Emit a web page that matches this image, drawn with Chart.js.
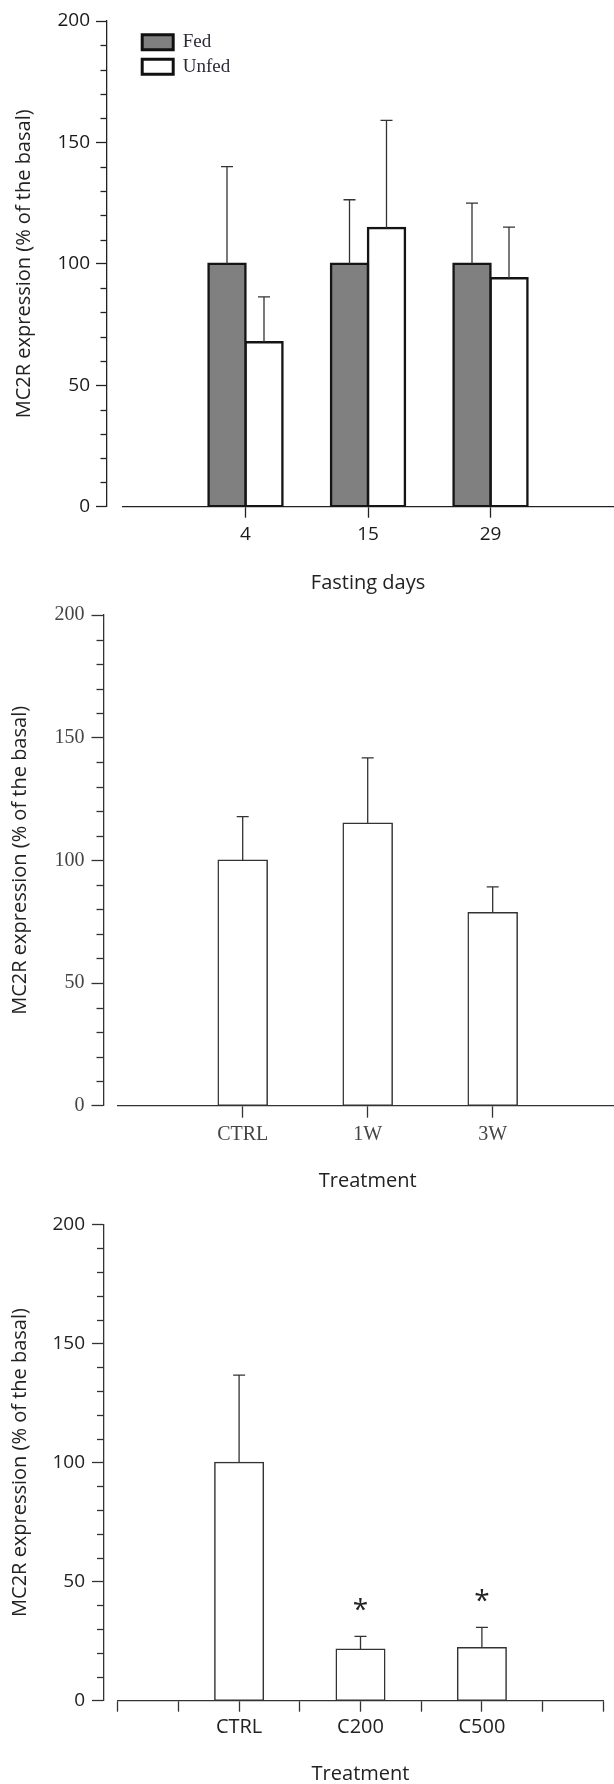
<!DOCTYPE html>
<html><head><meta charset="utf-8">
<script src="https://cdn.jsdelivr.net/npm/chart.js@4.4.1/dist/chart.umd.min.js"></script>
<style>
html,body{margin:0;padding:0;background:#fff;overflow:hidden;width:614px;height:1784px;position:relative;}
canvas{position:absolute;left:0;}
</style></head><body>
<canvas id="c1" width="614" height="596" style="top:0px"></canvas>
<canvas id="c2" width="614" height="600" style="top:596px"></canvas>
<canvas id="c3" width="614" height="588" style="top:1196px"></canvas>
<script>
// ---------- DATA ----------
const yTitle = 'MC2R expression (% of the basal)';
const yMin = 0, yMax = 200, yMajorStep = 50, yMinorStep = 10;

// Panel 1: fasting experiment
const fastingDays = ['4', '15', '29'];
const fedMean = [100, 100, 100];
const fedSem = [40, 26.4, 25];
const unfedMean = [67.7, 114.8, 94.1];
const unfedSem = [18.7, 44.3, 21];
const seriesNames1 = ['Fed', 'Unfed'];
const xTitle1 = 'Fasting days';

// Panel 2: treatment weeks
const treatA = ['CTRL', '1W', '3W'];
const treatAMean = [100, 115.1, 78.6];
const treatASem = [17.8, 26.7, 10.6];
const xTitle2 = 'Treatment';

// Panel 3: treatment concentrations
const treatB = ['CTRL', 'C200', 'C500'];
const treatBMean = [100, 21.6, 22.2];
const treatBSem = [36.7, 5.4, 8.6];
const treatBSig = ['', '*', '*'];
const xTitle3 = 'Treatment';

// ---------- HELPERS ----------
const SANS = "'Open Sans', 'DejaVu Sans', sans-serif";
const SERIF = "'Liberation Serif', 'Times New Roman', serif";
const pad1 = a => [null, ...a, null];
// panel 3 axis has a tick between every category
const spread = a => [null, null, ...a.flatMap(v => [v, null]), null];

const layoutPlugin = {
  id: 'axisLayout',
  afterLayout(chart, args, o) {
    const x = chart.scales.x;
    x.left = o.left; x.right = o.right; x.width = o.right - o.left;
    x.configure();
    if (o.legend && chart.legend) {
      chart.legend.left = chart.chartArea.left + o.legend.dx;
      chart.legend.top = chart.chartArea.top + o.legend.dy;
    }
  }
};

const decorPlugin = {
  id: 'decor',
  afterDatasetsDraw(chart, args, o) {
    const ctx = chart.ctx, y = chart.scales.y;
    ctx.save();
    chart.data.datasets.forEach((ds, di) => {
      if (!ds.sem) return;
      const meta = chart.getDatasetMeta(di);
      meta.data.forEach((bar, i) => {
        const v = ds.data[i], s = ds.sem[i];
        if (v == null || s == null) return;
        const yt = y.getPixelForValue(v + s);
        ctx.strokeStyle = o.errColor; ctx.lineWidth = o.errWidth;
        ctx.beginPath();
        ctx.moveTo(bar.x, bar.y); ctx.lineTo(bar.x, yt);
        ctx.moveTo(bar.x - o.cap / 2, yt); ctx.lineTo(bar.x + o.cap / 2, yt);
        ctx.stroke();
        if (ds.sig && ds.sig[i]) {
          ctx.fillStyle = o.sigColor; ctx.font = o.sigFont;
          ctx.textAlign = 'center'; ctx.textBaseline = 'middle';
          ctx.fillText(ds.sig[i], bar.x, yt - o.sigOffset);
        }
      });
    });
    ctx.restore();
  },
  afterDraw(chart, args, o) {
    const ctx = chart.ctx, y = chart.scales.y;
    const xr = y.right;
    ctx.save();
    ctx.strokeStyle = o.lineColor; ctx.lineWidth = o.lineWidth;
    for (let v = yMin; v <= yMax; v += yMinorStep) {
      if (v % yMajorStep === 0) continue;
      const py = Math.round(y.getPixelForValue(v)) + 0.5;
      ctx.beginPath(); ctx.moveTo(xr - o.minorLen, py); ctx.lineTo(xr, py); ctx.stroke();
    }
    ctx.restore();
  }
};

function yScale(o) {
  return {
    type: 'linear', min: yMin, max: yMax,
    ticks: { stepSize: yMajorStep, padding: o.tickPad, color: o.tickColor, font: o.tickFont },
    grid: { drawOnChartArea: false, drawTicks: true, tickLength: o.tickLen, tickColor: o.lineColor, tickWidth: o.lineWidth },
    border: { display: true, color: o.lineColor, width: o.lineWidth },
    title: { display: true, text: yTitle, color: o.titleColor, font: { family: SANS, size: 20, lineHeight: 1 }, padding: { top: o.titlePad, bottom: 0 } },
    afterFit: s => { s.width = o.width; }
  };
}
function xScale(o) {
  return {
    type: 'category', offset: false,
    ticks: { autoSkip: false, maxRotation: 0, minRotation: 0, padding: o.tickPad, color: o.tickColor, font: o.tickFont },
    grid: { offset: false, drawOnChartArea: false, drawTicks: true, tickLength: o.tickLen, tickColor: o.lineColor, tickWidth: o.lineWidth },
    border: { display: true, color: o.lineColor, width: o.lineWidth },
    title: { display: true, text: o.title, color: o.titleColor, font: { family: SANS, size: 20, lineHeight: 1 }, padding: { top: 0, bottom: o.titlePad } },
    afterFit: s => { s.height = o.height; }
  };
}

Chart.defaults.font.family = SANS;

// ---------- PANEL 1 ----------
new Chart(document.getElementById('c1'), {
  type: 'bar',
  data: {
    labels: pad1(fastingDays),
    datasets: [
      { label: seriesNames1[0], data: pad1(fedMean), sem: pad1(fedSem), backgroundColor: '#808080', borderColor: '#141414', borderWidth: 2.5, borderSkipped: false, inflateAmount: 1.25, barThickness: 37 },
      { label: seriesNames1[1], data: pad1(unfedMean), sem: pad1(unfedSem), backgroundColor: '#ffffff', borderColor: '#141414', borderWidth: 2.5, borderSkipped: false, inflateAmount: 1.25, barThickness: 37 }
    ]
  },
  options: {
    responsive: false, animation: false, devicePixelRatio: 1,
    layout: { padding: { top: 21, left: 0, right: 0, bottom: 0 } },
    scales: {
      x: xScale({ title: xTitle1, titleColor: '#222', tickColor: '#1a1a1a', tickFont: { family: SANS, size: 19 }, tickPad: 5, tickLen: 11, lineColor: '#222', lineWidth: 1.3, titlePad: 3, height: 596 - 506.7 }),
      y: yScale({ tickColor: '#1a1a1a', tickFont: { family: SANS, size: 19 }, tickPad: 6, tickLen: 11, lineColor: '#222', lineWidth: 1.3, titleColor: '#222', titlePad: 13.8, width: 107 })
    },
    plugins: {
      legend: { display: true, position: 'chartArea', align: 'start',
        labels: { boxWidth: 31, boxHeight: 15, padding: 5.5, color: '#2a2a33', font: { family: SERIF, size: 19, lineHeight: 1 },
          generateLabels: chart => Chart.defaults.plugins.legend.labels.generateLabels(chart).map(l => Object.assign(l, { lineWidth: 3, strokeStyle: '#111' })) } },
      tooltip: { enabled: false },
      axisLayout: { left: 123, right: 613, legend: { dx: 29.7, dy: 6.3 } },
      decor: { errColor: '#333', errWidth: 1.3, cap: 12, lineColor: '#222', lineWidth: 1.3, minorLen: 6.5 }
    }
  },
  plugins: [layoutPlugin, decorPlugin]
});

// ---------- PANEL 2 ----------
new Chart(document.getElementById('c2'), {
  type: 'bar',
  data: {
    labels: pad1(treatA),
    datasets: [
      { label: 'MC2R', data: pad1(treatAMean), sem: pad1(treatASem), backgroundColor: '#ffffff', borderColor: '#333', borderWidth: 1.5, borderSkipped: false, inflateAmount: 0.75, barThickness: 49 }
    ]
  },
  options: {
    responsive: false, animation: false, devicePixelRatio: 1,
    layout: { padding: { top: 18.9, left: 0, right: 0, bottom: 0 } },
    scales: {
      x: xScale({ title: xTitle2, titleColor: '#222', tickColor: '#444', tickFont: { family: SERIF, size: 20 }, tickPad: 4.6, tickLen: 12, lineColor: '#333', lineWidth: 1.3, titlePad: 4.3, height: 600 - 509.7 }),
      y: yScale({ tickColor: '#444', tickFont: { family: SERIF, size: 20 }, tickPad: 7, tickLen: 12, lineColor: '#333', lineWidth: 1.3, titleColor: '#222', titlePad: 9.9, width: 103.5 })
    },
    plugins: {
      legend: { display: false },
      tooltip: { enabled: false },
      axisLayout: { left: 117.7, right: 617.7 },
      decor: { errColor: '#333', errWidth: 1.3, cap: 12, lineColor: '#333', lineWidth: 1.3, minorLen: 7 }
    }
  },
  plugins: [layoutPlugin, decorPlugin]
});

// ---------- PANEL 3 ----------
new Chart(document.getElementById('c3'), {
  type: 'bar',
  data: {
    labels: spread(treatB).map(v => v === null ? '' : v),
    datasets: [
      { label: 'MC2R', data: spread(treatBMean), sem: spread(treatBSem), sig: spread(treatBSig), backgroundColor: '#ffffff', borderColor: '#333', borderWidth: 1.5, borderSkipped: false, inflateAmount: 0.75, barThickness: 48.5 }
    ]
  },
  options: {
    responsive: false, animation: false, devicePixelRatio: 1,
    layout: { padding: { top: 28.3, left: 0, right: 0, bottom: 0 } },
    scales: {
      x: xScale({ title: xTitle3, titleColor: '#222', tickColor: '#222', tickFont: { family: SANS, size: 20 }, tickPad: 3.6, tickLen: 11, lineColor: '#333', lineWidth: 1.3, titlePad: 0, height: 588 - 504.7 }),
      y: yScale({ tickColor: '#222', tickFont: { family: SANS, size: 19 }, tickPad: 7, tickLen: 12, lineColor: '#333', lineWidth: 1.3, titleColor: '#222', titlePad: 9.9, width: 104 })
    },
    plugins: {
      legend: { display: false },
      tooltip: { enabled: false },
      axisLayout: { left: 117.7, right: 603.3 },
      decor: { errColor: '#333', errWidth: 1.3, cap: 12, lineColor: '#333', lineWidth: 1.3, minorLen: 7, sigColor: '#222', sigFont: "28px " + SANS, sigOffset: 25.4 }
    }
  },
  plugins: [layoutPlugin, decorPlugin]
});
</script>
</body></html>
